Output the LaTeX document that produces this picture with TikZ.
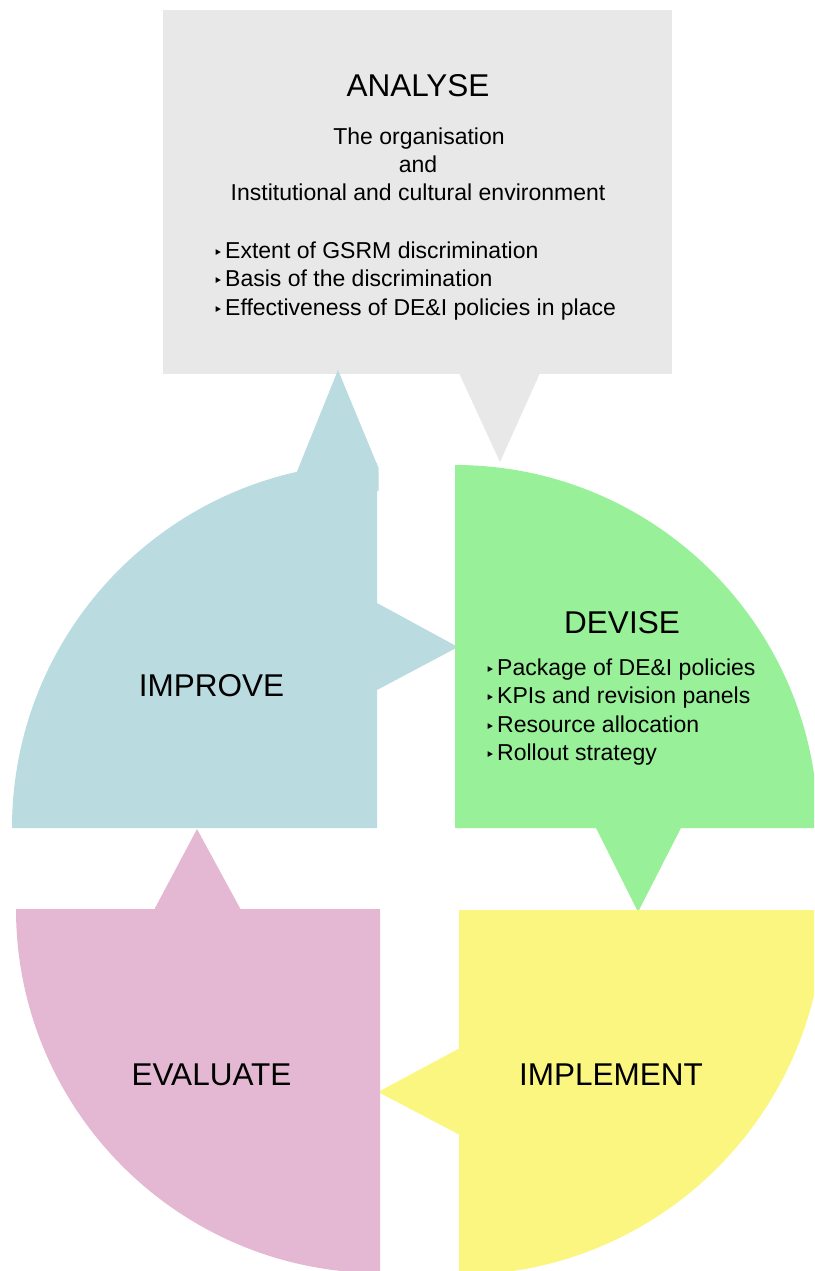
\documentclass[tikz,border=0pt]{standalone}
\usepackage{fontspec}
\setmainfont{Liberation Sans}
\newfontfamily\bulletfont{DejaVu Sans}
\definecolor{anagrey}{HTML}{E8E8E8}
\definecolor{impblue}{HTML}{BADBE0}
\definecolor{devgreen}{HTML}{98F098}
\definecolor{implyellow}{HTML}{FBF680}
\definecolor{evalpink}{HTML}{E4B8D3}
\tikzset{
  head/.style={inner sep=0pt, anchor=base, font=\fontsize{31.5}{36}\selectfont},
  body/.style={inner sep=0pt, anchor=base, font=\fontsize{23}{28}\selectfont},
  item/.style={inner sep=0pt, anchor=base west, font=\fontsize{23}{28}\selectfont},
  bul/.style={inner sep=0pt, anchor=base, font=\bulletfont\fontsize{16}{18}\selectfont},
}
\begin{document}
\begin{tikzpicture}[x=1pt, y=-1pt]
  \useasboundingbox (0,0) rectangle (814,1271);
  \clip (0,0) rectangle (814,1271);

  % ANALYSE callout
  \fill[anagrey] (163,10) rectangle (672,374);
  \fill[anagrey] (459,373) -- (500,462) -- (540,373) -- cycle;

  % IMPROVE quarter with its two pointers
  \fill[impblue] (377,828) -- (12,828) arc[start angle=180, end angle=90, radius=365pt] -- cycle;
  \fill[impblue] (296,474) -- (338,370) -- (378.5,468) -- (378.5,491) -- (360,491) -- cycle;
  \fill[impblue] (370,603) -- (377,603) -- (458,647) -- (377,690) -- (370,690) -- cycle;

  % DEVISE quarter with its pointer
  \fill[devgreen] (455,828) -- (455,465) arc[start angle=90, end angle=0, radius=363pt] -- cycle;
  \fill[devgreen] (595,826) -- (638,912) -- (682,826) -- cycle;

  % IMPLEMENT quarter with its pointer
  \fill[implyellow] (459,910) -- (824,910) arc[start angle=0, end angle=-90, radius=365pt] -- cycle;
  \fill[implyellow] (460,1048) -- (378,1092) -- (460,1135) -- cycle;

  % EVALUATE quarter with its pointer
  \fill[evalpink] (380,909) -- (380,1273) arc[start angle=-90, end angle=-180, radius=364pt] -- cycle;
  \fill[evalpink] (154,910) -- (197,829) -- (241,910) -- cycle;

  % ANALYSE texts
  \node[head] (analyse) at (418,97) {ANALYSE};
  \node[body] (org) at (419,145) {The organisation};
  \node[body] (and) at (418,172) {and};
  \node[body] (env) at (418,200) {Institutional and cultural environment};
  \node[bul] (ab1) at (218,258) {‣};
  \node[item] (a1) at (225,258) {Extent of GSRM discrimination};
  \node[bul] (ab2) at (218,286) {‣};
  \node[item] (a2) at (225,286) {Basis of the discrimination};
  \node[bul] (ab3) at (218,315) {‣};
  \node[item] (a3) at (225,315) {Effectiveness of DE\&I policies in place};

  % DEVISE texts
  \node[head] (devise) at (622,633) {DEVISE};
  \node[bul] (db1) at (490,675) {‣};
  \node[item] (d1) at (497,675) {Package of DE\&I policies};
  \node[bul] (db2) at (490,703.5) {‣};
  \node[item] (d2) at (497,703.5) {KPIs and revision panels};
  \node[bul] (db3) at (490,732) {‣};
  \node[item] (d3) at (497,732) {Resource allocation};
  \node[bul] (db4) at (490,760.5) {‣};
  \node[item] (d4) at (497,760.5) {Rollout strategy};

  % remaining stage titles
  \node[head] (improve) at (211.5,696) {IMPROVE};
  \node[head] (evaluate) at (211.5,1085) {EVALUATE};
  \node[head] (implement) at (611,1085) {IMPLEMENT};
\end{tikzpicture}
\end{document}
